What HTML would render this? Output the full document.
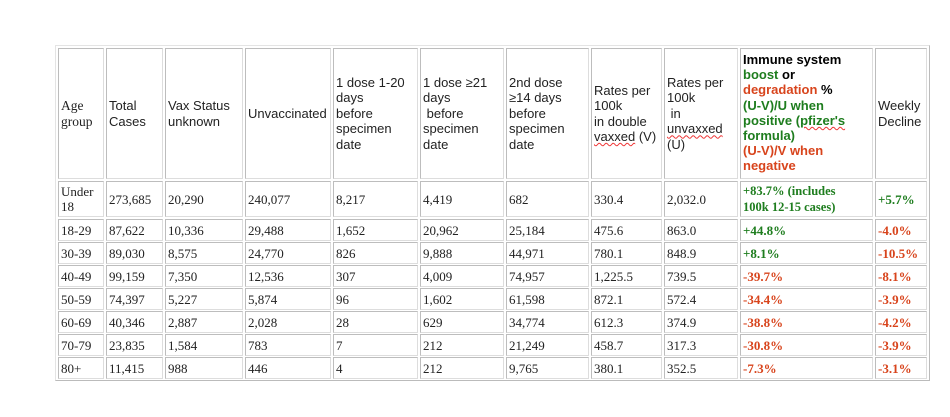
<!DOCTYPE html>
<html><head><meta charset="utf-8"><style>
body{margin:0;width:950px;height:417px;background:#fff;position:relative;overflow:hidden}
.o{position:absolute;left:55px;top:45px;width:873px;height:334px;border:1px solid #bbb;border-left-color:#e4e4e4;border-top-color:#e4e4e4}
.c{position:absolute;box-sizing:border-box;border:1px solid #bdbdbd;border-right-color:#ddd;border-bottom-color:#ddd;display:flex;align-items:center;padding-left:2px;font-family:"Liberation Serif",serif;font-size:13px;color:#222;line-height:15px;white-space:nowrap}
.h{font-family:"Liberation Sans",sans-serif;font-size:13px;line-height:15.5px}
.g{color:#1e7d1e;font-weight:bold}
.r{color:#d8441c;font-weight:bold}
.k{color:#000;font-weight:bold}
.s{text-decoration:underline wavy #e33;text-decoration-thickness:1px}
</style></head><body>
<div class="o"></div>
<div id="t"></div>
<script>
var L=[58,106,165,245,333,420,506,591,664,740,875],R=[103,162,242,330,417,503,588,661,737,872,926];
var T=[48,181,219,242,265,288,311,334,357],B=[178,216,240,263,286,309,332,355,378];
var hdr=['<span style="font-family:Liberation Serif,serif;font-size:13.5px;line-height:16px">Age<br>group</span>','Total<br>Cases','Vax Status<br>unknown','Unvaccinated','1 dose 1-20<br>days<br>before<br>specimen<br>date','1 dose ≥21<br>days<br>&nbsp;before<br>specimen<br>date','2nd dose<br>≥14 days<br>before<br>specimen<br>date','Rates per<br>100k<br>in double<br><span class="s">vaxxed</span> (V)','Rates per<br>100k<br>&nbsp;in<br><span class="s">unvaxxed</span><br>(U)','<div style="line-height:15.2px;font-size:13px"><span class="k">Immune system</span><br><span class="g">boost</span> <span class="k">or</span><br><span class="r">degradation</span> <span class="k">%</span><br><span class="g">(U-V)/U when<br>positive (<span class="s">pfizer\'s</span><br>formula)</span><br><span class="r">(U-V)/V when<br>negative</span></div>','Weekly<br>Decline'];
var d=[['Under<br>18','273,685','20,290','240,077','8,217','4,419','682','330.4','2,032.0','<span class="g" style="font-size:12.5px">+83.7% (includes<br>100k 12-15 cases)</span>','<span class="g">+5.7%</span>'],
['18-29','87,622','10,336','29,488','1,652','20,962','25,184','475.6','863.0','g+44.8%','r-4.0%'],
['30-39','89,030','8,575','24,770','826','9,888','44,971','780.1','848.9','g+8.1%','r-10.5%'],
['40-49','99,159','7,350','12,536','307','4,009','74,957','1,225.5','739.5','r-39.7%','r-8.1%'],
['50-59','74,397','5,227','5,874','96','1,602','61,598','872.1','572.4','r-34.4%','r-3.9%'],
['60-69','40,346','2,887','2,028','28','629','34,774','612.3','374.9','r-38.8%','r-4.2%'],
['70-79','23,835','1,584','783','7','212','21,249','458.7','317.3','r-30.8%','r-3.9%'],
['80+','11,415','988','446','4','212','9,765','380.1','352.5','r-7.3%','r-3.1%']];
var h='';
for(var r=0;r<9;r++)for(var c=0;c<11;c++){
 var v=r==0?hdr[c]:d[r-1][c],cls='c'+(r==0?' h':'');
 if(r>0&&c>=9&&(v[0]=='g'||v[0]=='r')&&v[1]!='<'){v='<span class="'+v[0]+'">'+v.slice(1)+'</span>';}
 h+='<div class="'+cls+'" style="left:'+L[c]+'px;top:'+T[r]+'px;width:'+(R[c]-L[c]+1)+'px;height:'+(B[r]-T[r]+1)+'px">'+(r==0&&c==9?'<div style="align-self:flex-start;padding-top:3px">'+v+'</div>':'<div>'+v+'</div>')+'</div>';
}
document.getElementById('t').innerHTML=h;
</script>
</body></html>
